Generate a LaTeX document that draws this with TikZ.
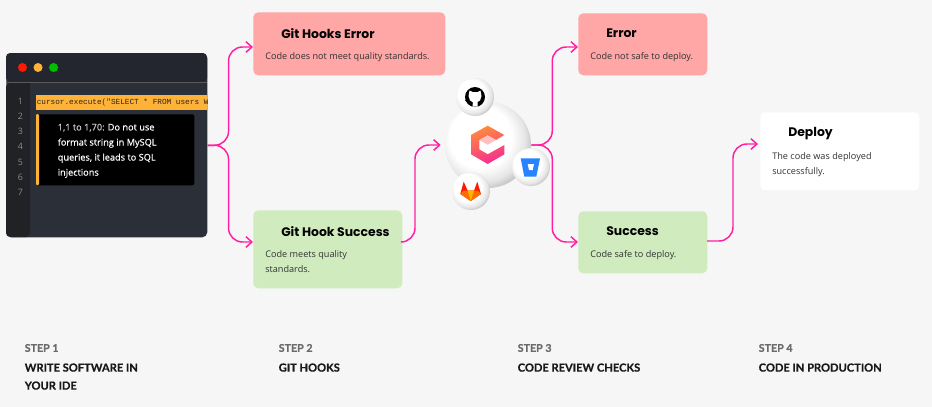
\documentclass[tikz,border=0pt]{standalone}
\usepackage{fontspec}
\usetikzlibrary{arrows.meta, positioning, calc}
\setmainfont{Open Sans}
\newfontfamily\headfont{Poppins}
\newfontfamily\stepfont[BoldFeatures={FakeBold=0.5}]{Lato}
\newfontfamily\codefont{Liberation Mono}
\newfontfamily\warnfont[FakeBold=0.4]{Open Sans}
\definecolor{PageColor}{HTML}{F6F6F6}
\definecolor{ErrorColor}{HTML}{FFA6A6}
\definecolor{SuccessColor}{HTML}{D0ECBF}
\definecolor{LinkColor}{HTML}{FF1FA0}
\definecolor{WindowColor}{HTML}{2B2F38}
\definecolor{BarColor}{HTML}{23262E}
\definecolor{GutterColor}{HTML}{212226}
\definecolor{MarkColor}{HTML}{FFB238}
\definecolor{BlueLogo}{HTML}{2684FF}
\definecolor{LogoTop}{HTML}{FF8A3C}
\definecolor{LogoBottom}{HTML}{F52E93}
\newcommand{\px}{0.75pt}
\pgfdeclareradialshading{sphere}{\pgfpoint{-7bp}{7bp}}{
    color(0bp)=(white); color(18bp)=(white); color(25bp)=(black!10);
    color(30bp)=(black!27); color(35bp)=(black!45); color(50bp)=(black!45)}

\begin{document}
\begin{tikzpicture}[
    x=0.75pt, y=-0.75pt,
    box/.style={
        anchor=north west,
        inner sep=0pt,
        rounded corners=5*\px
    },
    errorbox/.style={box, fill=ErrorColor},
    successbox/.style={box, fill=SuccessColor},
    deploybox/.style={box, fill=white},
    heading/.style={anchor=west, inner sep=0pt, font=\headfont\bfseries\fontsize{9.3}{12}\selectfont},
    desc/.style={anchor=north west, inner sep=0pt, align=left, text=black!80, font=\fontsize{6.85}{11.3}\selectfont},
    arrow/.style={-{Straight Barb[length=4.5pt, width=8pt]}, line width=1.1pt, LinkColor, rounded corners=14*\px},
    linenum/.style={inner sep=0pt, text=black!45, font=\fontsize{6.6}{8}\selectfont},
    dot/.style={circle, inner sep=0pt, minimum size=9*\px},
    stepnum/.style={anchor=west, inner sep=0pt, text=black!58, font=\stepfont\bfseries\fontsize{8}{10}\selectfont},
    steptitle/.style={anchor=north west, inner sep=0pt, align=left, text=black!90, font=\stepfont\bfseries\fontsize{8.35}{13.5}\selectfont},
    logoball/.style={circle, inner sep=0pt, minimum size=38*\px, shading=sphere}
]

% Page
\fill[PageColor] (0,0) rectangle (932,407);

% IDE window
\node[box, fill=WindowColor, minimum width=201*\px, minimum height=184*\px] at (6,53) (ide) {};
\fill[BarColor, rounded corners=3] (6,82) -- (6,53) -- (207,53) -- (207,82) -- cycle;
\draw[black!65, line width=0.5pt] (6,82) -- (207,82);
\fill[GutterColor, rounded corners=3] (30,83) -- (6,83) -- (6,237) -- (30,237) [sharp corners] -- cycle;
\node[dot, fill=red!80!orange] at (22.5,67.5) (dot_red) {};
\node[dot, fill=MarkColor, right=6*\px of dot_red] (dot_yellow) {};
\node[dot, fill=green!75!black, right=6*\px of dot_yellow] (dot_green) {};

% Line numbers
\node[linenum] at (20.5,101) (num1) {1};
\node[linenum] at (20.5,116) (num2) {2};
\node[linenum] at (20.5,131) (num3) {3};
\node[linenum] at (20.5,146.5) (num4) {4};
\node[linenum] at (20.5,162) (num5) {5};
\node[linenum] at (20.5,177) (num6) {6};
\node[linenum] at (20.5,192) (num7) {7};

% Code line and its warning
\fill[MarkColor] (36,95) rectangle (207,110);
\begin{scope}
    \clip (36,95) rectangle (207,110);
    \node[anchor=west, inner sep=0pt, text=black!85, font=\codefont\fontsize{5.8}{7}\selectfont] at (36.5,102.5) (code) {cursor.execute("SELECT * FROM users WHERE};
\end{scope}
\node[box, fill=black, rounded corners=2*\px, minimum width=158*\px, minimum height=71*\px] at (36,114) (warning) {};
\fill[MarkColor, rounded corners=1*\px] (36,114) rectangle (39,185);
\node[anchor=north west, inner sep=0pt, align=left, text=white, font=\warnfont\fontsize{6.9}{11.3}\selectfont] at (57.5,123.5) (warning_text) {\textcolor{black!20}{1,1 to 1,70:} Do not use\\format string in MySQL\\queries, it leads to SQL\\injections};

% Git hooks
\node[errorbox, minimum width=192*\px, minimum height=63*\px] at (253,12) (hooks_error) {};
\node[heading, below right=22*\px and 28*\px of hooks_error.north west, anchor=west] (hooks_error_title) {Git Hooks Error};
\node[desc, below right=40*\px and 12*\px of hooks_error.north west, anchor=north west] (hooks_error_text) {Code does not meet quality standards.};

\node[successbox, minimum width=149*\px, minimum height=78*\px] at (253,210) (hooks_success) {};
\node[heading, below right=22*\px and 28*\px of hooks_success.north west, anchor=west] (hooks_success_title) {Git Hook Success};
\node[desc, below right=40*\px and 12*\px of hooks_success.north west, anchor=north west] (hooks_success_text) {Code meets quality\\standards.};

% Code review hub
\node[circle, inner sep=0pt, minimum size=86*\px, shading=sphere] at (488,145) (hub) {};
\node[logoball] at (475,97) (github) {};
\node[logoball] at (531,167) (bitbucket) {};
\node[logoball] at (471,191) (gitlab) {};

% Hub logo
\shade[top color=LogoTop, bottom color=LogoBottom, shading angle=20]
    (487.7,125.7) -- (504.3,135) -- (496,140) -- (487.7,135.3) -- (479.3,140) -- (479.3,149.3)
    -- (487.7,154.3) -- (504.3,145) -- (504.3,154.3) -- (487.7,164) -- (471,154.3) -- (471,135) -- cycle;
\fill[red!25!white] (487.7,135.7) -- (496,140) -- (487.7,144.7) -- (479.3,140) -- cycle;

% GitHub logo
\fill[black] (github) circle (10);
\fill[white] (469.5,90.5) -- (472.5,92) -- (477.5,92) -- (480.5,90.5) -- (481.5,96) -- (480,100.5) -- (477.5,102)
    -- (477.5,106.5) -- (472.5,106.5) -- (472.5,102) -- (470,100.5) -- (468.5,96) -- cycle;
\draw[black, line width=1pt] (465.5,100) .. controls (468,101) and (470,103) .. (472.5,103.5);

% Bitbucket logo
\fill[BlueLogo] (520.7,158.3) -- (540,158.3) -- (536.3,176.7) -- (524.3,176.7) -- cycle;
\fill[white] (527.7,164) -- (534,164) -- (532.7,170) -- (529,170) -- cycle;

% GitLab logo
\fill[red!80!orange] (463.7,181.7) -- (467.7,190.7) -- (474,190.7) -- (477.3,181.7) -- (481,194) -- (470.7,201) -- (460.3,194) -- cycle;
\fill[orange!85!red] (460.3,194) -- (463.5,190.7) -- (478,190.7) -- (481,194) -- (470.7,201) -- cycle;
\fill[orange!60!yellow] (467.7,190.7) -- (474,190.7) -- (470.7,201) -- cycle;

% Code review results
\node[errorbox, minimum width=129*\px, minimum height=62*\px] at (578,13) (review_error) {};
\node[heading, below right=20*\px and 28*\px of review_error.north west, anchor=west] (review_error_title) {Error};
\node[desc, below right=39*\px and 12*\px of review_error.north west, anchor=north west] (review_error_text) {Code not safe to deploy.};

\node[successbox, minimum width=129*\px, minimum height=62*\px] at (578,211) (review_success) {};
\node[heading, below right=20*\px and 28*\px of review_success.north west, anchor=west] (review_success_title) {Success};
\node[desc, below right=39*\px and 12*\px of review_success.north west, anchor=north west] (review_success_text) {Code safe to deploy.};

% Deploy
\node[deploybox, minimum width=159*\px, minimum height=78*\px] at (760,112) (deploy) {};
\node[heading, below right=22*\px and 28*\px of deploy.north west, anchor=west] (deploy_title) {Deploy};
\node[desc, below right=40*\px and 12*\px of deploy.north west, anchor=north west] (deploy_text) {The code was deployed\\successfully.};

% Arrow ends
\coordinate (hooks_error_in) at (253,47);
\coordinate (hooks_success_in) at (253,242);
\coordinate (hooks_success_out) at (402,242);
\coordinate (review_error_in) at (578,47);
\coordinate (review_success_in) at (578,242);
\coordinate (review_success_out) at (707,241);
\coordinate (deploy_in) at (758,144);

% Connections
\draw[arrow] (ide.east) -- ++(21,0) |- (hooks_error_in);
\draw[arrow] (ide.east) -- ++(21,0) |- (hooks_success_in);
\draw[arrow] (hooks_success_out) -- ++(13,0) |- ([xshift=-3pt]hub.west);
\draw[arrow] (hub.east) -- ++(21,0) |- (review_error_in);
\draw[arrow] (hub.east) -- ++(21,0) |- (review_success_in);
\draw[arrow] (review_success_out) -- ++(26,0) |- (deploy_in);

% Steps
\node[stepnum] at (24.5,348) (step1) {STEP 1};
\node[steptitle, below=11*\px of step1.south west, anchor=north west] (step1_title) {WRITE SOFTWARE IN\\YOUR IDE};
\node[stepnum] at (278.5,348) (step2) {STEP 2};
\node[steptitle, below=11*\px of step2.south west, anchor=north west] (step2_title) {GIT HOOKS};
\node[stepnum] at (517.5,348) (step3) {STEP 3};
\node[steptitle, below=11*\px of step3.south west, anchor=north west] (step3_title) {CODE REVIEW CHECKS};
\node[stepnum] at (758.5,348) (step4) {STEP 4};
\node[steptitle, below=11*\px of step4.south west, anchor=north west] (step4_title) {CODE IN PRODUCTION};

\end{tikzpicture}
\end{document}
